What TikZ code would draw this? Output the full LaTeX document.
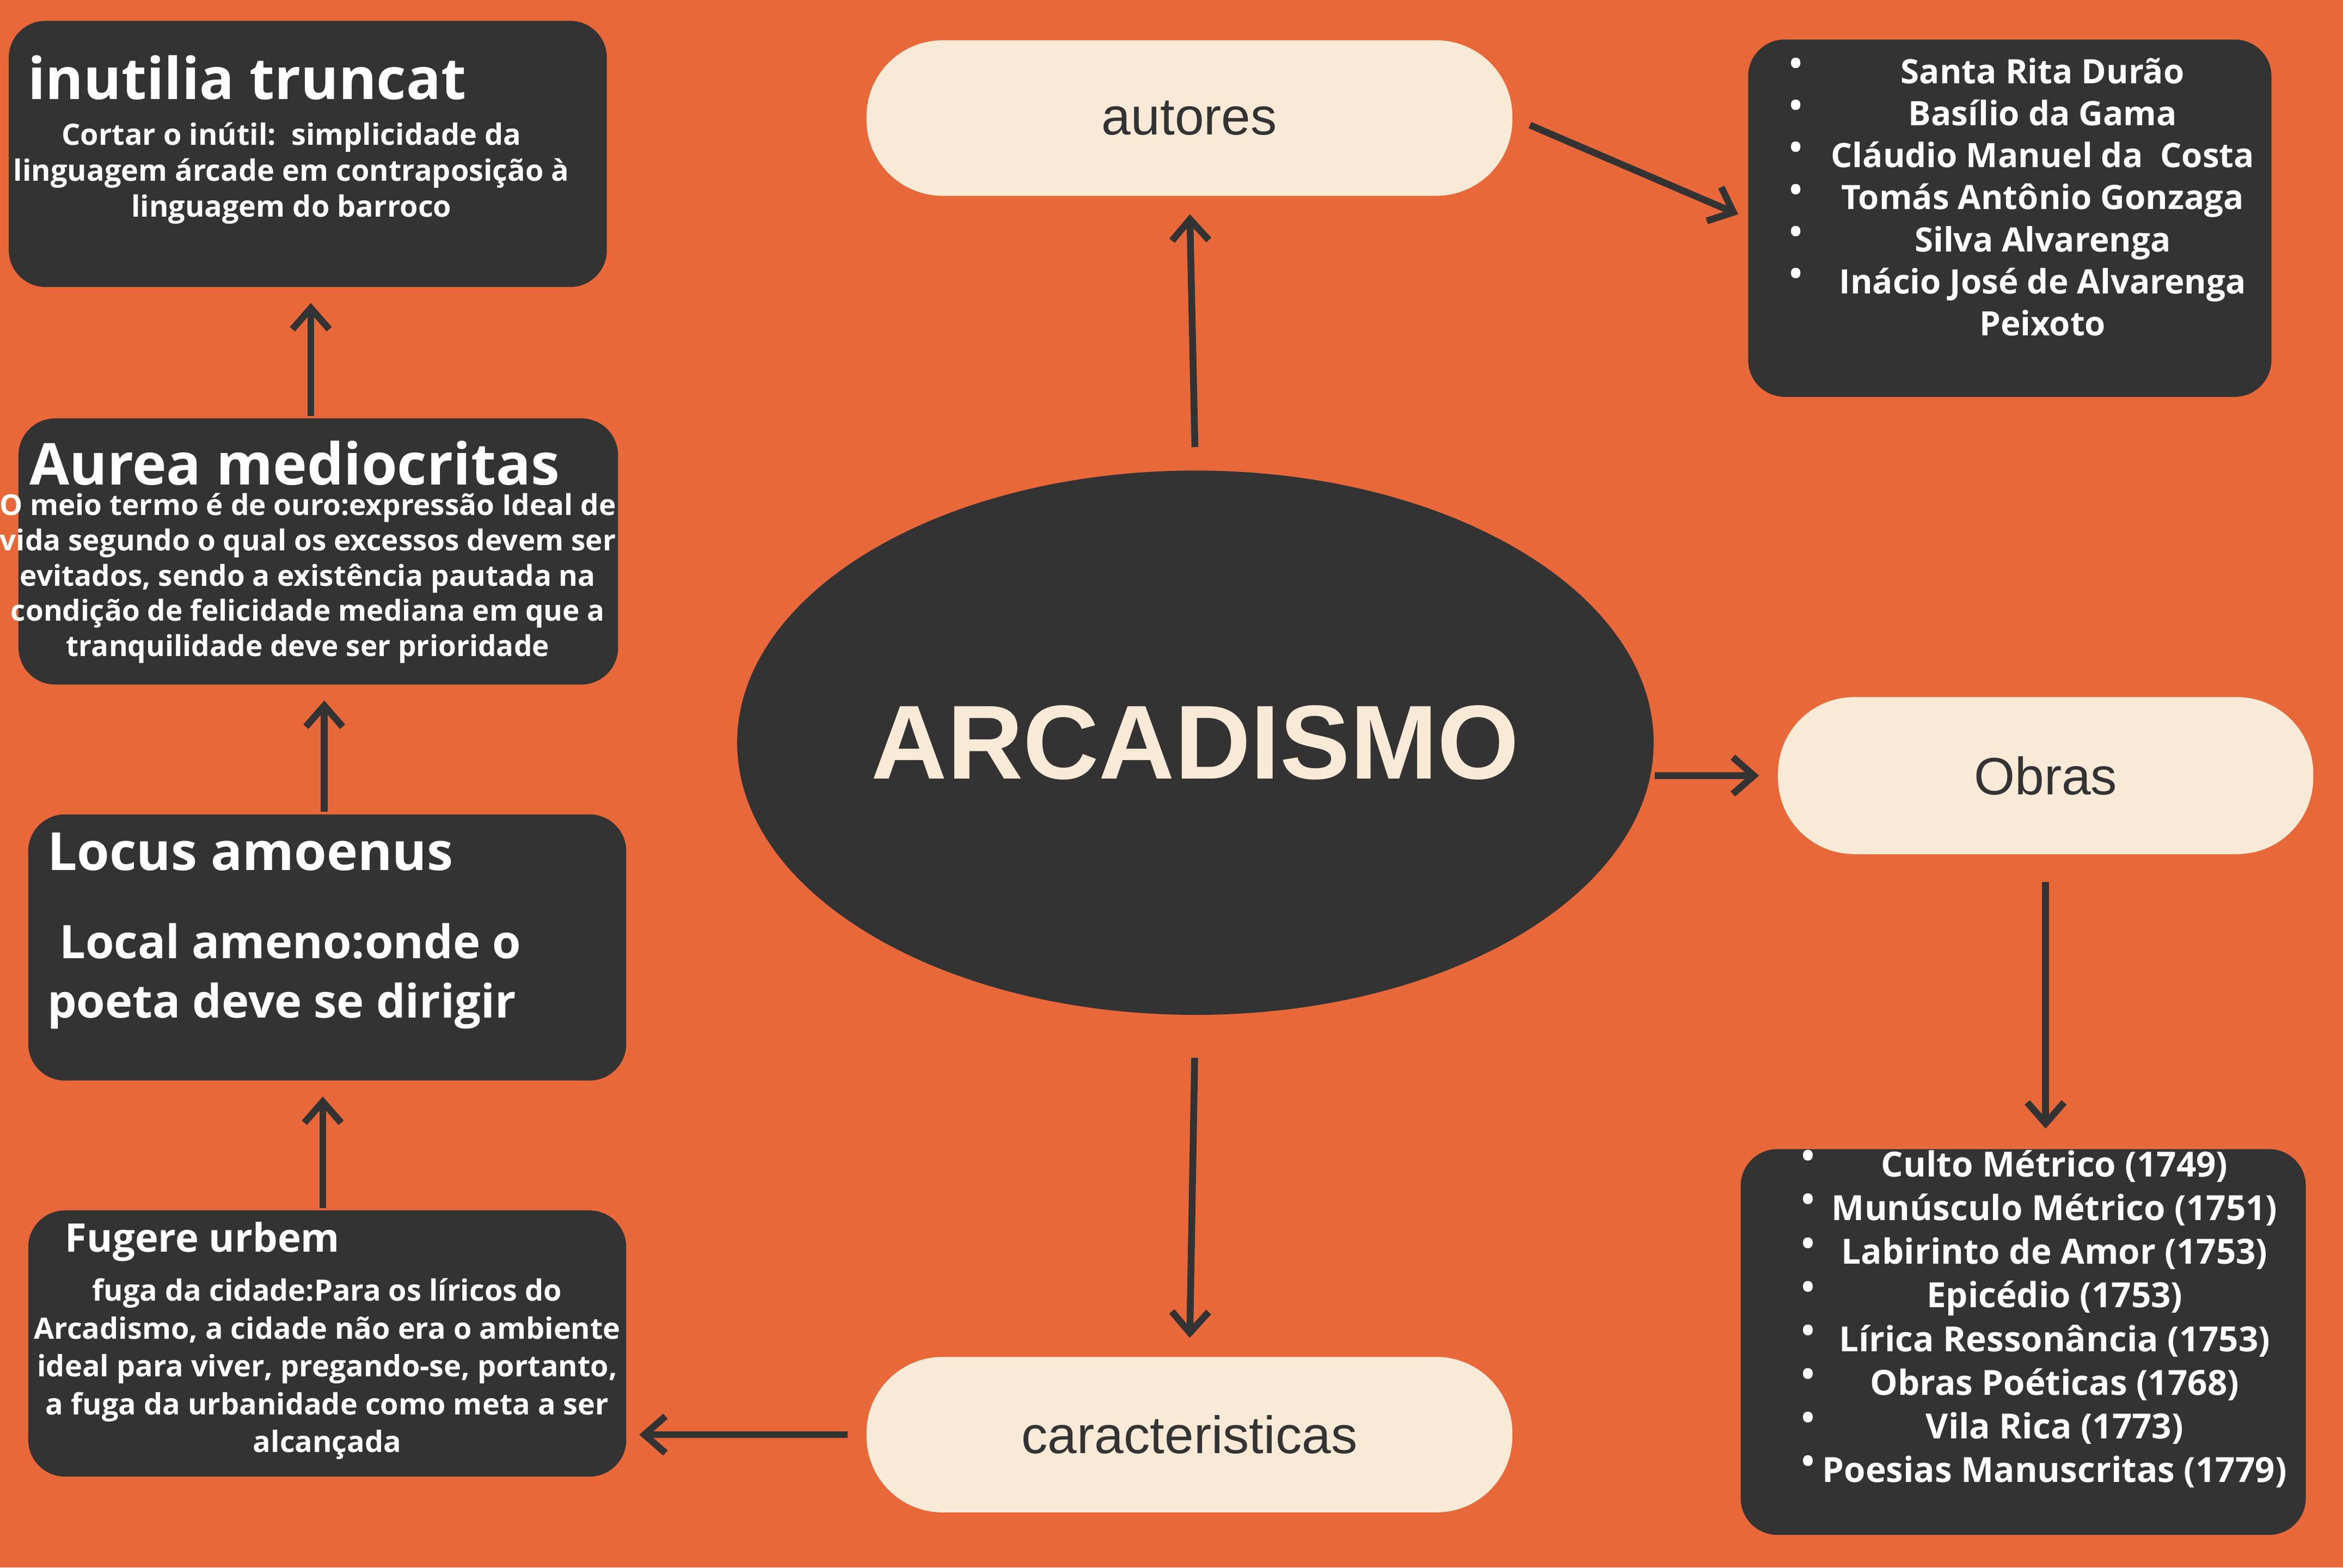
\documentclass[tikz,border=0pt]{standalone}
\usepackage{fontspec}
\setmainfont{Open Sans}
\newfontfamily\pillfont{Liberation Sans}
\usetikzlibrary{arrows.meta, positioning, shapes.geometric}
\definecolor{bgorange}{HTML}{E8683A}
\definecolor{boxdark}{HTML}{333333}
\definecolor{cream}{HTML}{F8EAD6}
\tikzset{
  darkbox/.style={draw=none, fill=boxdark, rounded corners=7pt, inner sep=0pt},
  pill/.style={draw=none, fill=cream, rounded corners=14.5pt, inner sep=0pt, font=\pillfont\fontsize{10}{12}\selectfont, text=boxdark},
  boxtitle/.style={text=white, font=\bfseries\fontsize{11}{13}\selectfont, inner sep=0pt},
  boxbody/.style={text=white, align=center, inner sep=0pt},
  flow/.style={-{Straight Barb[length=4pt,width=7pt]}, line width=1.3pt, draw=boxdark}
}
\begin{document}
\begin{tikzpicture}[x=0.01cm, y=-0.01cm]
\fill[bgorange] (0,0) rectangle (1568,1049);
\useasboundingbox (0,0) rectangle (1568,1049);

% left column
\node[darkbox, minimum width=4.0cm, minimum height=1.78cm] (inutil) at (206,103) {};
\node[boxtitle, anchor=west] (inutilT) at (18,52) {inutilia truncat};
\node[boxbody, font=\bfseries\fontsize{5.6}{6.8}\selectfont] (inutilB) at (195,116) {Cortar o inútil:\ \ simplicidade da\\linguagem árcade em contraposição à\\linguagem do barroco};

\node[darkbox, minimum width=4.01cm, minimum height=1.78cm] (aurea) at (213,369) {};
\node[boxtitle, anchor=west] (aureaT) at (19,310) {Aurea mediocritas};
\node[boxbody, font=\bfseries\fontsize{5.5}{6.7}\selectfont] (aureaB) at (206,387) {O meio termo é de ouro:expressão Ideal de\\vida segundo o qual os excessos devem ser\\evitados, sendo a existência pautada na\\condição de felicidade mediana em que a\\tranquilidade deve ser prioridade};

\node[darkbox, minimum width=4.0cm, minimum height=1.78cm] (locus) at (219,634) {};
\node[boxtitle, anchor=west, font=\bfseries\fontsize{10}{12}\selectfont] (locusT) at (31,570) {Locus amoenus};
\node[boxbody, align=left, anchor=north west, font=\bfseries\fontsize{8.8}{11.3}\selectfont] (locusB) at (31,617) {\ Local ameno:onde o\\poeta deve se dirigir};

\node[darkbox, minimum width=4.0cm, minimum height=1.78cm] (fugere) at (219,899) {};
\node[boxtitle, anchor=west, font=\bfseries\fontsize{7.5}{9}\selectfont] (fugereT) at (43,831) {Fugere urbem};
\node[boxbody, font=\bfseries\fontsize{5.6}{7.2}\selectfont] (fugereB) at (219,916) {fuga da cidade:Para os líricos do\\Arcadismo, a cidade não era o ambiente\\ideal para viver, pregando-se, portanto,\\a fuga da urbanidade como meta a ser\\alcançada};

% centre
\node[ellipse, fill=boxdark, minimum width=5.24cm, minimum height=3.64cm, inner sep=0pt, text=cream, font=\pillfont\bfseries\fontsize{20}{24}\selectfont] (arcad) at (800,497) {ARCADISMO};
\node[pill, minimum width=4.32cm, minimum height=1.04cm] (autores) at (796,79) {autores};
\node[pill, minimum width=4.32cm, minimum height=1.04cm] (caract) at (796,960) {caracteristicas};
\node[pill, minimum width=3.58cm, minimum height=1.05cm] (obras) at (1369,519) {Obras};

% right lists
\node[darkbox, minimum width=3.5cm, minimum height=2.39cm] (autlist) at (1345,146) {};
\node[boxbody, anchor=north, font=\bfseries\fontsize{6.4}{8}\selectfont] (autlistB) at (1367,38) {Santa Rita Durão\\Basílio da Gama\\Cláudio Manuel da\ \ Costa\\Tomás Antônio Gonzaga\\Silva Alvarenga\\Inácio José de Alvarenga\\Peixoto};
\node[boxbody, anchor=north, font=\bfseries\fontsize{6.4}{8}\selectfont] (autbul) at (1202,38) {•\\•\\•\\•\\•\\•};

\node[darkbox, minimum width=3.78cm, minimum height=2.58cm] (obrlist) at (1354,898) {};
\node[boxbody, anchor=north, font=\bfseries\fontsize{6.6}{8.3}\selectfont] (obrlistB) at (1375,769) {Culto Métrico (1749)\\Munúsculo Métrico (1751)\\Labirinto de Amor (1753)\\Epicédio (1753)\\Lírica Ressonância (1753)\\Obras Poéticas (1768)\\Vila Rica (1773)\\Poesias Manuscritas (1779)};
\node[boxbody, anchor=north, font=\bfseries\fontsize{6.6}{8.3}\selectfont] (obrbul) at (1210,769) {•\\•\\•\\•\\•\\•\\•\\•};

% arrows
\draw[flow, shorten <=1.5mm, shorten >=1.16mm] (arcad.north) -- (autores.south);
\draw[flow, shorten <=1.2mm, shorten >=0.65mm] (autores.east) -- (autlist.west);
\draw[flow, shorten >=1.2mm] ([yshift=-0.22cm]arcad.east) -- (obras.west);
\draw[flow, shorten <=1.8mm, shorten >=1.3mm] (obras.south) -- (obras.south |- obrlist.north);
\draw[flow, shorten <=2.8mm, shorten >=1.2mm] (arcad.south) -- (caract.north);
\draw[flow, shorten <=1.2mm, shorten >=0.8mm] (caract.west) -- (caract.west -| fugere.east);
\draw[flow, shorten <=0.1mm, shorten >=1mm] ([xshift=-0.03cm]fugere.north) -- ([xshift=-0.03cm]fugere.north |- locus.south);
\draw[flow, shorten <=0.1mm, shorten >=1mm] ([xshift=-0.02cm]locus.north) -- ([xshift=-0.02cm]locus.north |- aurea.south);
\draw[flow, shorten <=0.1mm, shorten >=1mm] ([xshift=-0.05cm]aurea.north) -- ([xshift=-0.05cm]aurea.north |- inutil.south);
\end{tikzpicture}
\end{document}
